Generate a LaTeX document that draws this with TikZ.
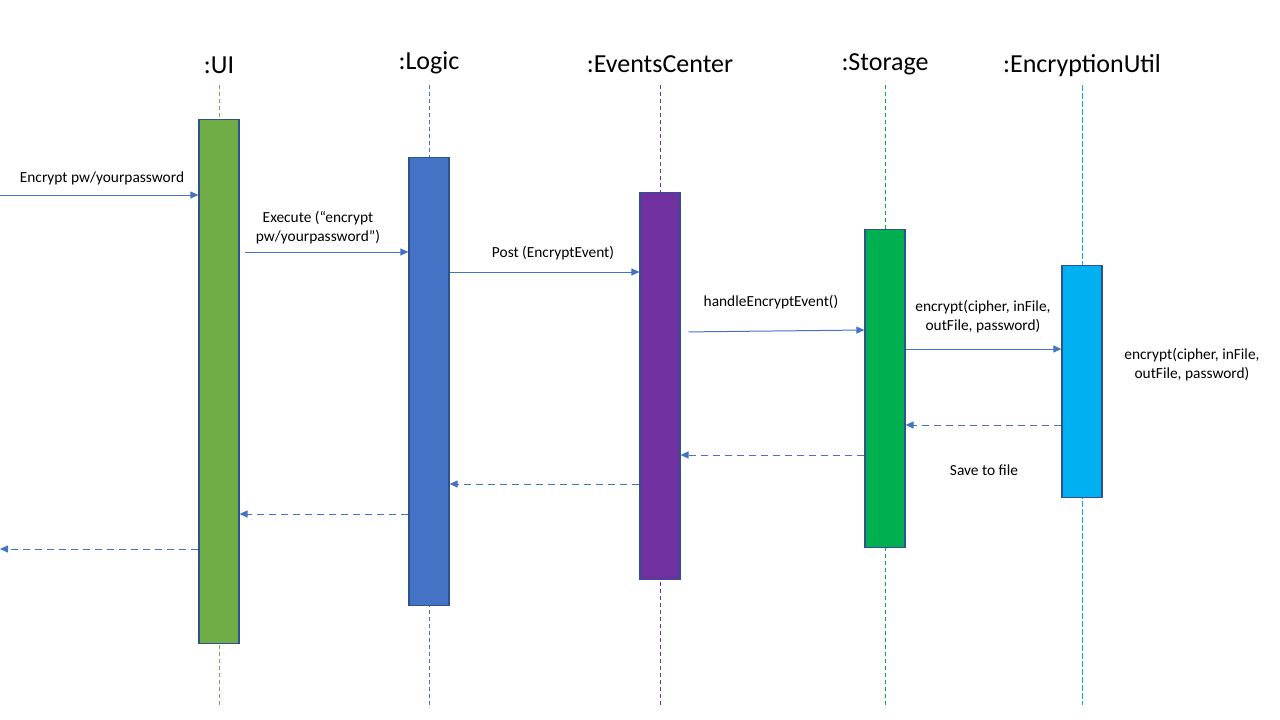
\documentclass[tikz,border=0pt]{standalone}
\usepackage{fontspec}
\setmainfont{Carlito}
\usetikzlibrary{arrows.meta}
\definecolor{uigreen}{HTML}{70AD47}
\definecolor{logicblue}{HTML}{4472C4}
\definecolor{evpurple}{HTML}{7030A0}
\definecolor{storgreen}{HTML}{00B050}
\definecolor{enccyan}{HTML}{00B0F0}
\definecolor{boxedge}{HTML}{2F528F}
\tikzset{
	actbox/.style={rectangle, draw=boxedge, line width=1.2pt, minimum width=40pt, anchor=north, inner sep=0pt},
	head/.style={font=\fontsize{26}{30}\selectfont, inner sep=0pt},
	lbl/.style={font=\fontsize{15.4}{19}\selectfont, align=center, inner sep=0pt},
	life/.style={line width=1pt, dash pattern=on 4pt off 3pt},
	msg/.style={draw=logicblue, line width=1pt, -{Triangle[length=8pt,width=7pt]}},
	ret/.style={msg, dash pattern=on 7pt off 5pt}
}
\begin{document}
\begin{tikzpicture}[x=1pt, y=-1pt]
		\useasboundingbox (0,0) rectangle (1280,720);
		
		\node[head] at (219,65) (uih)    {:UI};
		\node[head] at (429,63) (logich)    {:Logic};
		\node[head] at (660,64) (evh)    {:EventsCenter};
		\node[head] at (885,64) (storh)    {:Storage};
		\node[head] at (1082,66) (ench)    {:EncryptionUtil};
		
		\coordinate (uiend) at (219,705);
		\coordinate (logicend) at (429,705);
		\coordinate (evend) at (660,705);
		\coordinate (storend) at (885,705);
		\coordinate (encend) at (1082,705);
		
		\draw[life, uigreen] (uih.south |- 0,85) -- (uiend);
		\draw[life, logicblue] (logich.south |- 0,85) -- (logicend);
		\draw[life, evpurple] (evh.south |- 0,85) -- (evend);
		\draw[life, storgreen] (storh.south |- 0,85) -- (storend);
		\draw[life, enccyan, dash pattern=on 6pt off 2pt] (ench.south |- 0,85) -- (encend);
		
		\node[actbox, fill=uigreen, minimum height=524pt] at (219,119) (ui) {};
		\node[actbox, fill=logicblue, minimum height=448pt] at (429,157) (logic) {};
		\node[actbox, fill=evpurple, minimum height=387pt] at (660,192) (ev) {};
		\node[actbox, fill=storgreen, minimum height=318pt] at (885,229) (stor) {};
		\node[actbox, fill=enccyan, minimum height=232pt] at (1082,265) (enc) {};
		
		\coordinate (in) at (0,195);
		\coordinate (out) at (0,549);
		
		\draw[msg] (in) -- ([yshift=-76pt]ui.north west);
		\draw[msg, shorten <=5pt] ([yshift=-133pt]ui.north east) -- ([yshift=-95pt]logic.north west);
		\draw[msg] ([yshift=-115pt]logic.north east) -- ([yshift=-80pt]ev.north west);
		\draw[msg, shorten <=8pt] ([yshift=-140pt]ev.north east) -- ([yshift=-101pt]stor.north west);
		\draw[msg] ([yshift=-120pt]stor.north east) -- ([yshift=-84pt]enc.north west);
		
		\draw[ret] ([yshift=-160pt]enc.north west) -- ([yshift=-196pt]stor.north east);
		\draw[ret] ([yshift=-226pt]stor.north west) -- ([yshift=-263pt]ev.north east);
		\draw[ret] ([yshift=-292pt]ev.north west) -- ([yshift=-327pt]logic.north east);
		\draw[ret] ([yshift=-357pt]logic.north west) -- ([yshift=-395pt]ui.north east);
		\draw[ret] ([yshift=-430pt]ui.north west) -- (out);
		
		\node[lbl] at (102,178) (m1t) {Encrypt pw/yourpassword};
		\node[lbl] at (318,228) (m2t) {Execute (“encrypt\\pw/yourpassword”)};
		\node[lbl] at (553,253) (m3t) {Post (EncryptEvent)};
		\node[lbl] at (771,302) (m4t) {handleEncryptEvent()};
		\node[lbl] at (983,317) (m5t) {encrypt(cipher, inFile,\\outFile, password)};
		\node[lbl] at (1192,365) (enct) {encrypt(cipher, inFile,\\outFile, password)};
		\node[lbl] at (984,470) (savet) {Save to file};
	\end{tikzpicture}
\end{document}
